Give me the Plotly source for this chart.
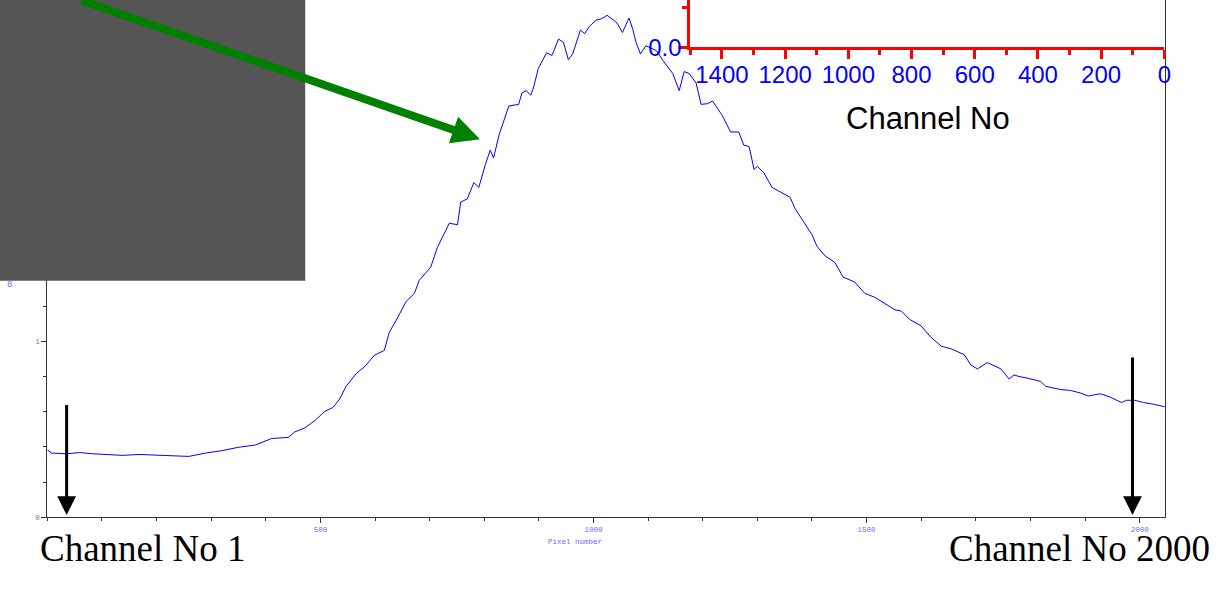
import plotly.graph_objects as go

W, H = 1226, 589

# ---- main spectrum (pixel number vs intensity) ----
pixel = [0, 7.5, 35, 59, 83, 108, 138, 168, 199, 229, 259, 290, 320, 350, 381, 411, 441, 453,
         472, 490, 508, 523, 535, 547, 566, 581, 599, 617, 626, 638, 657, 672, 681, 702, 714,
         736, 751, 757, 769, 781, 790, 802, 811, 817, 827, 845, 863, 869, 877, 885, 890, 899,
         914, 924, 936, 945, 954, 962, 968, 976, 984, 993, 1005, 1015, 1025, 1036, 1043, 1053,
         1065, 1072, 1078, 1086, 1096, 1115, 1127, 1145, 1157, 1166, 1175, 1188, 1197, 1209,
         1218, 1236, 1251, 1266, 1275, 1285, 1294, 1300, 1312, 1327, 1345, 1360, 1369, 1382,
         1400, 1409, 1424, 1442, 1457, 1478, 1497, 1515, 1533, 1552, 1564, 1579, 1600, 1618,
         1637, 1655, 1679, 1691, 1703, 1721, 1746, 1761, 1770, 1779, 1794, 1819, 1828, 1843,
         1855, 1873, 1891, 1906, 1928, 1946, 1967, 1976, 1991, 2007, 2025, 2046]
intensity = [0.383, 0.365, 0.361, 0.368, 0.361, 0.356, 0.352, 0.357, 0.354, 0.350, 0.346, 0.365,
             0.379, 0.398, 0.411, 0.448, 0.454, 0.485, 0.509, 0.550, 0.602, 0.624, 0.671, 0.744,
             0.818, 0.856, 0.921, 0.948, 1.050, 1.115, 1.226, 1.272, 1.346, 1.421, 1.532, 1.671,
             1.662, 1.791, 1.809, 1.902, 1.874, 2.004, 2.087, 2.041, 2.171, 2.337, 2.346, 2.411,
             2.424, 2.398, 2.439, 2.550, 2.639, 2.624, 2.717, 2.698, 2.600, 2.633, 2.689, 2.768,
             2.748, 2.791, 2.824, 2.833, 2.852, 2.828, 2.809, 2.754, 2.837, 2.772, 2.698, 2.633,
             2.679, 2.652, 2.596, 2.522, 2.424, 2.532, 2.522, 2.467, 2.346, 2.350, 2.365, 2.282,
             2.189, 2.189, 2.115, 2.106, 1.976, 1.994, 1.957, 1.874, 1.846, 1.818, 1.754, 1.689,
             1.606, 1.541, 1.485, 1.448, 1.365, 1.337, 1.272, 1.250, 1.217, 1.179, 1.171, 1.124,
             1.087, 1.022, 0.972, 0.957, 0.924, 0.865, 0.843, 0.879, 0.843, 0.786, 0.809, 0.800,
             0.791, 0.772, 0.744, 0.735, 0.726, 0.721, 0.707, 0.689, 0.702, 0.683, 0.652, 0.665,
             0.665, 0.652, 0.643, 0.628]
main_xticks = [500, 1000, 1500, 2000]
main_yticks = [0, 1, 2]

# ---- inset axis (channel numbers, reversed) ----
inset_channels = [0, 1500]
inset_values = [0.0, 0.1178]
inset_xticks = [0, 200, 400, 600, 800, 1000, 1200, 1400]

main_color = "#0000ff"
tick_blue = "#6b6bff"


def px(x):
    return x / W


def py(y):
    return 1 - y / H


fig = go.Figure()
fig.add_trace(go.Scatter(x=pixel, y=intensity, mode="lines",
                         line=dict(color=main_color, width=1),
                         xaxis="x", yaxis="y", hoverinfo="skip"))
# invisible trace for inset axes
fig.add_trace(go.Scatter(x=inset_channels, y=inset_values, mode="markers",
                         marker=dict(opacity=0), xaxis="x2", yaxis="y2", hoverinfo="skip"))

fig.update_layout(
    width=W, height=H, autosize=False,
    margin=dict(l=0, r=0, t=0, b=0, pad=0),
    paper_bgcolor="white", plot_bgcolor="rgba(0,0,0,0)",
    showlegend=False,
    xaxis=dict(domain=[px(47.6), px(1172)], range=[0, 2047], showgrid=False, zeroline=False,
               showline=True, linecolor="#333333", linewidth=1,
               ticks="outside", ticklen=5, tickwidth=1, tickcolor="#333333",
               tickmode="array", tickvals=main_xticks,
               minor=dict(tick0=0, dtick=100, ticks="outside", ticklen=3, tickcolor="#333333", showgrid=False),
               tickfont=dict(family="Liberation Mono", size=7.5, color=tick_blue),
               anchor="y"),
    yaxis=dict(domain=[py(529), 1], range=[0, 529 / 180], showgrid=False, zeroline=False,
               showline=True, linecolor="#333333", linewidth=1, mirror=True,
               ticks="outside", ticklen=5, tickwidth=1, tickcolor="#333333",
               tickmode="array", tickvals=main_yticks,
               minor=dict(tick0=0, dtick=0.2, ticks="outside", ticklen=3, tickcolor="#333333", showgrid=False),
               tickfont=dict(family="Liberation Mono", size=7.5, color=tick_blue),
               anchor="x"),
    xaxis2=dict(domain=[px(694.3), px(1171)], range=[1500, 0], showgrid=False, zeroline=False,
                showline=True, linecolor="red", linewidth=3,
                ticks="outside", ticklen=9, tickwidth=3, tickcolor="red",
                tickmode="array", tickvals=inset_xticks, ticklabelstandoff=-5,
                minor=dict(tick0=0, dtick=100, ticks="outside", ticklen=5, tickwidth=3, tickcolor="red", showgrid=False),
                tickfont=dict(family="Liberation Sans", size=24, color="#0000ff"),
                anchor="y2"),
    yaxis2=dict(domain=[py(48.3), 1], range=[0, 0.1178], showgrid=False, zeroline=False,
                showline=True, linecolor="red", linewidth=3,
                ticks="outside", ticklen=9, tickwidth=3, tickcolor="red",
                tick0=0, dtick=0.2, tickformat=".1f", ticklabelstandoff=-8,
                minor=dict(tick0=0, dtick=0.1, ticks="outside", ticklen=5, tickwidth=3, tickcolor="red", showgrid=False),
                tickfont=dict(family="Liberation Sans", size=24, color="#0000ff"),
                anchor="x2"),
)

# gray box covering top-left
fig.add_shape(type="rect", xref="paper", yref="paper",
              x0=-0.01, x1=px(307), y0=py(287), y1=1.01,
              fillcolor="#555555", line=dict(width=0), layer="above")

annotations = []
# green arrow
annotations.append(dict(xref="paper", yref="paper", x=px(482.7), y=py(142.3),
                        ax=-400, ay=-159, text="", showarrow=True,
                        arrowhead=2, arrowsize=0.7, arrowwidth=8, arrowcolor="#008000"))
# black arrows
annotations.append(dict(xref="paper", yref="paper", x=px(67), y=py(526.7),
                        ax=0, ay=-111.7, text="", showarrow=True,
                        arrowhead=2, arrowsize=1.25, arrowwidth=3, arrowcolor="black"))
annotations.append(dict(xref="paper", yref="paper", x=px(1139), y=py(526.5),
                        ax=0, ay=-159, text="", showarrow=True,
                        arrowhead=2, arrowsize=1.25, arrowwidth=3, arrowcolor="black"))
# texts
annotations.append(dict(xref="paper", yref="paper", x=px(38), y=py(561), xanchor="left", yanchor="middle",
                        text="Channel No 1", showarrow=False,
                        font=dict(family="Liberation Serif", size=37, color="black")))
annotations.append(dict(xref="paper", yref="paper", x=px(952), y=py(561), xanchor="left", yanchor="middle",
                        text="Channel No 2000", showarrow=False,
                        font=dict(family="Liberation Serif", size=37, color="black")))
annotations.append(dict(xref="paper", yref="paper", x=px(933), y=py(121), xanchor="center", yanchor="middle",
                        text="Channel No", showarrow=False,
                        font=dict(family="Liberation Sans", size=31, color="black")))
annotations.append(dict(xref="paper", yref="paper", x=px(578), y=py(554), xanchor="center", yanchor="middle",
                        text="Pixel number", showarrow=False,
                        font=dict(family="Liberation Mono", size=7.5, color=tick_blue)))
annotations.append(dict(xref="paper", yref="paper", x=px(10), y=py(291), xanchor="center", yanchor="middle",
                        text="8", showarrow=False,
                        font=dict(family="Liberation Mono", size=9, color=tick_blue)))
fig.update_layout(annotations=annotations)

fig.write_html("out.html", config={"responsive": False})
